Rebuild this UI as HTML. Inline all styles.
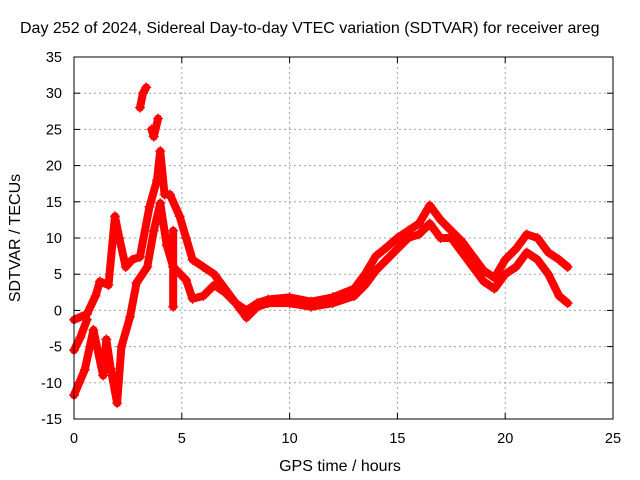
<!DOCTYPE html>
<html><head><meta charset="utf-8"><style>
body{margin:0;background:#fff;}
svg{display:block;font-family:"Liberation Sans",sans-serif;}
</style></head><body>
<svg id="chart" width="640" height="480" viewBox="0 0 640 480">
<rect width="640" height="480" fill="#fff"/>
<text x="20" y="33" font-size="16" text-anchor="start">Day 252 of 2024, Sidereal Day-to-day VTEC variation (SDTVAR) for receiver areg</text>
<text x="340" y="471" font-size="16" text-anchor="middle">GPS time / hours</text>
<text transform="translate(20,238) rotate(-90)" font-size="16" text-anchor="middle">SDTVAR / TECUs</text>
<g id="grid"></g>
<g id="ticks"></g>
<g id="marks"></g>
<rect x="74" y="57" width="539" height="362" fill="none" stroke="#000" stroke-width="1"/>
</svg>
<script>
const xTicks=[0,5,10,15,20,25];
const yTicks=[-15,-10,-5,0,5,10,15,20,25,30,35];
const traceUpperX=[0,0.6,1.0,1.2,1.6,1.9,2.1,2.4,2.7,3.06,3.5,3.85,4.0,4.2,4.45,4.9,5.2,5.5,6,6.5,7,7.5,8,8.5,9,10,11,12,13,13.5,14,14.5,15,15.5,16,16.5,17,17.5,18,18.5,19,19.5,20,20.5,21,21.5,22,22.5,22.9];
const traceUpperY=[-1.3,-0.5,2,4,3.5,13,10,6,7,7.4,14.3,18,22,16,16,13,10,7,6,5,3,1,0,1,1.5,1.8,1.2,1.8,3,5,7.5,8.7,10,11,12,14.5,12.5,11,9.5,7.5,5.5,4.5,7,8.5,10.5,10,8,7,6];
const traceLowerX=[0,0.5,0.9,1.35,1.5,1.7,2.0,2.2,2.6,2.9,3.4,3.7,4.0,4.3,4.6,5.2,5.5,6,6.5,7,7.5,8,8.5,9,10,11,12,13,13.5,14,14.5,15,15.5,16,16.5,17,17.5,18,18.5,19,19.5,20,20.5,21,21.5,22,22.5,22.9];
const traceLowerY=[-11.7,-8.2,-2.7,-9,-4,-8,-12.8,-5,-0.9,3.8,6,11,14.8,9,6,4.2,1.6,2,3.5,2.5,1,-1,0.5,1,1,0.5,1,2,3.5,5.5,7,8.5,10,10.5,12,10,10,8,6,4,3,5,6,8,7,5,2,1];
const traceStartX=[0,0.3,0.6];
const traceStartY=[-5.5,-3.7,-1.3];
const spikeX=[3.06,3.2,3.35];
const spikeY=[28,30,30.8];
const spurX=[4.6,4.6,4.6];
const spurY=[11,6,0.5];
const peakX=[3.6,3.7,3.9];
const peakY=[25,24,26.5];

const NS="http://www.w3.org/2000/svg";
const X0=74,X1=613,Y0=419,Y1=57;
function sx(v){return X0+(v-0)/(25-0)*(X1-X0);}
function sy(v){return Y0-(v+15)/(50)*(Y0-Y1);}
function mk(tag,attrs,parent){const e=document.createElementNS(NS,tag);for(const k in attrs)e.setAttribute(k,attrs[k]);parent.appendChild(e);return e;}
const grid=document.getElementById('grid'),ticks=document.getElementById('ticks'),marks=document.getElementById('marks');
xTicks.forEach(t=>{
  const x=sx(t);
  if(t>0&&t<25){const l=mk('line',{x1:x,x2:x,y1:Y0,y2:Y1,stroke:'#a0a0a0','stroke-dasharray':'2,3'},grid);
  
  }
  mk('line',{x1:x,x2:x,y1:Y0,y2:Y0-6,stroke:'#000'},ticks);
  mk('line',{x1:x,x2:x,y1:Y1,y2:Y1+6,stroke:'#000'},ticks);
  const tx=mk('text',{x:x,y:443,'font-size':14.5,'text-anchor':'middle'},ticks);
  tx.textContent=t;
  
  
});
yTicks.forEach(t=>{
  const y=sy(t);
  if(t>-15&&t<35){const l=mk('line',{x1:X0,x2:X1,y1:y,y2:y,stroke:'#a0a0a0','stroke-dasharray':'2,3'},grid);
  
  }
  mk('line',{x1:X0,x2:X0+6,y1:y,y2:y,stroke:'#000'},ticks);
  mk('line',{x1:X1,x2:X1-6,y1:y,y2:y,stroke:'#000'},ticks);
  const tx=mk('text',{x:62,y:y+5,'font-size':14.5,'text-anchor':'end'},ticks);
  tx.textContent=t;
  
  
});
function drawTrace(xs,ys,name){
  const pts=xs.map((x,i)=>sx(x)+','+sy(ys[i])).join(' ');
  const pl=mk('polyline',{points:pts,fill:'none',stroke:'#ff0000','stroke-width':8,'stroke-linejoin':'round','stroke-linecap':'round'},marks);
  
  
  xs.forEach((x,i)=>{
    const px=sx(x),py=sy(ys[i]);
    const p=mk('path',{d:`M${px-5},${py}h10M${px},${py-5}v10`,stroke:'#ff0000','stroke-width':1.2},marks);
    
    
  });
}
drawTrace(traceUpperX,traceUpperY,'upper-band');
drawTrace(traceLowerX,traceLowerY,'lower-band');
drawTrace(traceStartX,traceStartY,'start-band');
drawTrace(spikeX,spikeY,'spike-cluster');
drawTrace(spurX,spurY,'vertical-spur');
drawTrace(peakX,peakY,'peak-cluster');
</script>
</body></html>
